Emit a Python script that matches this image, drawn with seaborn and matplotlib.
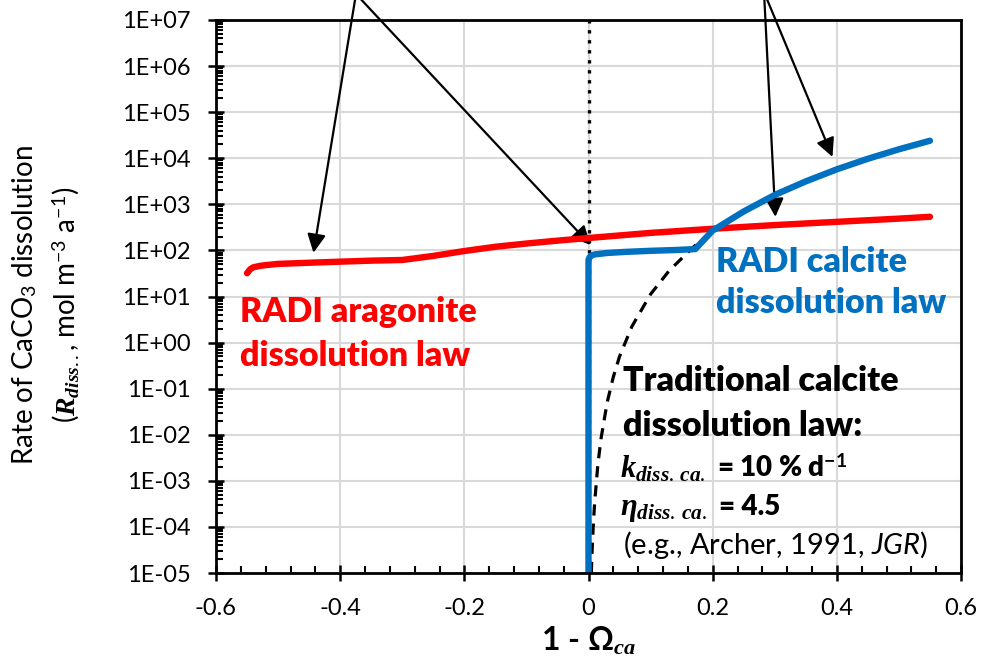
import numpy as np
import pandas as pd
import matplotlib
matplotlib.use("Agg")
import matplotlib.pyplot as plt
import matplotlib.ticker as mticker
import seaborn as sns

# --- data ---
x_arag = [-0.55, -0.545, -0.54, -0.53, -0.52, -0.5, -0.45, -0.4, -0.35, -0.3,
          -0.25, -0.2, -0.15, -0.1, -0.05, 0.0, 0.1, 0.2, 0.3, 0.4, 0.5, 0.55]
r_arag = [32, 39, 43, 46, 48, 51, 54, 57, 60, 62,
          76, 97, 120, 141, 163, 186, 240, 295, 355, 417, 490, 537]

x_calc = [0.0, 0.0, 0.002, 0.005, 0.01, 0.03, 0.06, 0.1, 0.14, 0.172,
          0.2, 0.25, 0.3, 0.35, 0.4, 0.45, 0.5, 0.55]
r_calc = [1e-5, 62, 72, 78, 82, 88, 93, 98, 102, 107,
          270, 700, 1600, 3150, 5750, 9750, 15650, 24000]

x_trad = [0.0045, 0.006, 0.008, 0.01, 0.015, 0.02, 0.03, 0.04, 0.05, 0.07, 0.1,
          0.13, 0.17, 0.2, 0.25, 0.3, 0.35, 0.4, 0.45, 0.5, 0.55]
r_trad = [1e-5, 3.5e-5, 1.3e-4, 3.5e-4, 2.2e-3, 8e-3, 0.05, 0.18, 0.5, 2.25, 11.2,
          36.5, 122, 253, 691, 1570, 3150, 5750, 9750, 15650, 24000]

# arrow tips (data) and their common tails (figure pixels)
arrow_tips = [(-0.443, 89), (0.003, 132), (0.301, 535), (0.393, 10700)]
arrow_tails = [(356, 669), (356, 669), (764, 671), (764, 671)]

x_ticks = [-0.6, -0.4, -0.2, 0, 0.2, 0.4, 0.6]
x_ticklabels = ["-0.6", "-0.4", "-0.2", "0", "0.2", "0.4", "0.6"]

RED = "#FF0000"
BLUE = "#0070C0"

sns.set_theme(style="white")
plt.rcParams["font.family"] = ["Lato", "DejaVu Sans"]
plt.rcParams["text.color"] = "black"
plt.rcParams["axes.labelcolor"] = "black"
plt.rcParams["xtick.color"] = "black"
plt.rcParams["ytick.color"] = "black"
plt.rcParams["axes.unicode_minus"] = False
plt.rcParams["mathtext.fontset"] = "custom"
plt.rcParams["mathtext.it"] = "Liberation Serif:italic:bold"
plt.rcParams["mathtext.rm"] = "Lato"
plt.rcParams["mathtext.bf"] = "Lato:bold"
plt.rcParams["mathtext.sf"] = "Lato:italic"

fig = plt.figure(figsize=(9.81, 6.63), dpi=100)
ax = fig.add_axes([216 / 981, 1 - 573 / 663, 745 / 981, 553 / 663])

ax.axvline(0, color="black", ls=(0, (1, 2)), lw=2.4, zorder=2)

sns.lineplot(x=x_trad, y=r_trad, ax=ax, color="black", lw=2.3, estimator=None,
             sort=False, zorder=3)
ax.lines[-1].set_linestyle((0, (3.5, 2.5)))
sns.lineplot(x=x_arag, y=r_arag, ax=ax, color=RED, lw=4.6, estimator=None,
             sort=False, zorder=4, solid_capstyle="round")
sns.lineplot(x=x_calc, y=r_calc, ax=ax, color=BLUE, lw=4.6, estimator=None,
             sort=False, zorder=5, solid_capstyle="round")

ax.set_yscale("log")
ax.set_ylim(1e-5, 1e7)
ax.set_xlim(-0.6, 0.6)
ax.yaxis.set_major_locator(mticker.LogLocator(base=10, numticks=20))
ax.yaxis.set_minor_locator(mticker.LogLocator(base=10, subs=np.arange(2, 10), numticks=20))
ax.yaxis.set_minor_formatter(mticker.NullFormatter())
ax.yaxis.set_major_formatter(mticker.FuncFormatter(lambda v, p: f"{v:.0E}"))
ax.set_xticks(x_ticks)
ax.set_xticklabels(x_ticklabels)
ax.xaxis.set_minor_locator(mticker.MultipleLocator(0.04))

ax.grid(True, which="major", color="#d9d9d9", lw=1.5)
ax.set_axisbelow(True)
for s in ax.spines.values():
    s.set_color("black")
    s.set_linewidth(2)
    s.set_zorder(6)

ax.tick_params(which="major", direction="inout", length=12, width=1.8,
               colors="black", labelsize=17, pad=12)
ax.tick_params(which="minor", direction="in", length=5, width=1.5, colors="black")
ax.tick_params(axis="y", which="both", left=True, right=False)
ax.tick_params(axis="x", which="both", bottom=True, top=False)

ax.set_xlabel(r"1 - Ω$_{ca}$", fontsize=23, fontweight="bold", labelpad=4)
ax.set_ylabel("")
fig.text(46 / 981, 1 - 305 / 663,
         "Rate of CaCO$_3$ dissolution\n($R_{diss..}$, mol m$^{-3}$ a$^{-1}$)",
         rotation=90, ha="center", va="center", fontsize=20, linespacing=1.5,
         multialignment="center")

def ax_y(py):
    return (573 - py) / 553

def ax_x(px):
    return (px - 216) / 745

big = 24.5
ax.text(ax_x(240), ax_y(322), "RADI aragonite", color=RED, fontsize=big,
        fontweight="heavy", transform=ax.transAxes, va="baseline")
ax.text(ax_x(240), ax_y(366), "dissolution law", color=RED, fontsize=big,
        fontweight="heavy", transform=ax.transAxes, va="baseline")
ax.text(ax_x(716), ax_y(272), "RADI calcite", color=BLUE, fontsize=big,
        fontweight="heavy", transform=ax.transAxes, va="baseline")
ax.text(ax_x(716), ax_y(313), "dissolution law", color=BLUE, fontsize=big,
        fontweight="heavy", transform=ax.transAxes, va="baseline")
ax.text(ax_x(623), ax_y(391), "Traditional calcite", color="black", fontsize=big,
        fontweight="heavy", transform=ax.transAxes, va="baseline")
ax.text(ax_x(623), ax_y(436), "dissolution law:", color="black", fontsize=big,
        fontweight="heavy", transform=ax.transAxes, va="baseline")
ax.text(ax_x(620), ax_y(477), r"$k_{diss.\,ca.}$", fontsize=22,
        transform=ax.transAxes, va="baseline")
ax.text(ax_x(717), ax_y(477), r"= 10 % d$^{\mathbf{-1}}$", fontsize=20,
        fontweight="heavy", transform=ax.transAxes, va="baseline")
ax.text(ax_x(620), ax_y(515), r"$\eta_{diss.\,ca.}$", fontsize=22,
        transform=ax.transAxes, va="baseline")
ax.text(ax_x(719), ax_y(515), "= 4.5", fontsize=20,
        fontweight="heavy", transform=ax.transAxes, va="baseline")
ax.text(ax_x(623), ax_y(554), r"(e.g., Archer, 1991, $\mathsf{JGR}$)", fontsize=21,
        transform=ax.transAxes, va="baseline")

for (tx, ty), (sx, sy) in zip(arrow_tips, arrow_tails):
    ax.annotate("", xy=(tx, ty), xycoords="data", xytext=(sx, sy),
                textcoords="figure pixels", annotation_clip=False,
                arrowprops=dict(arrowstyle="-|>", color="black", lw=1.6,
                                mutation_scale=28, shrinkA=0, shrinkB=0))

fig.savefig("out.png", dpi=100)
